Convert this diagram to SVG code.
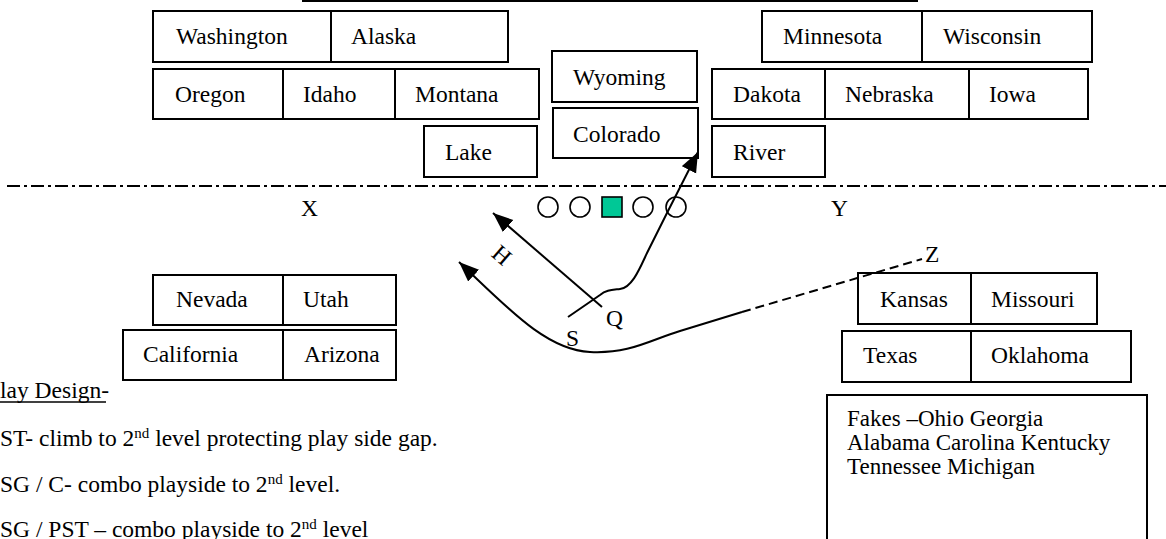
<svg xmlns="http://www.w3.org/2000/svg" width="1166" height="539" viewBox="0 0 1166 539">
  <style>
    text { font-family: "Liberation Serif", "Times New Roman", serif; font-size: 23.5px; fill: #000; }
    .note { font-size: 23px; }
    .box { fill: #fff; stroke: #000; stroke-width: 2; }
    .route { fill: none; stroke: #000; stroke-width: 2; }
    .dash { fill: none; stroke: #000; stroke-width: 2; stroke-dasharray: 9 5; }
    .los { fill: none; stroke: #000; stroke-width: 2; stroke-dasharray: 13 4 3 4; }
    .man { fill: #fff; stroke: #000; stroke-width: 1.6; }
    .sup { font-size: 15px; }
  </style>
  <defs>
    <marker id="arrow" markerUnits="userSpaceOnUse" markerWidth="22" markerHeight="18" refX="20" refY="8" orient="auto">
      <path d="M0,0 L20,8 L0,16 z" fill="#000"/>
    </marker>
  </defs>

  <rect width="1166" height="539" fill="#fff"/>

  <!-- top edge rule and line of scrimmage -->
  <line x1="302" y1="1" x2="918" y2="1" stroke="#000" stroke-width="2"/>
  <line class="los" x1="7" y1="186" x2="1166" y2="186"/>

  <!-- defensive fronts, left side -->
  <g id="row-washington">
    <rect class="box" x="153" y="11" width="178" height="51"/>
    <rect class="box" x="331" y="11" width="177" height="51"/>
    <text x="176" y="44">Washington</text>
    <text x="351" y="44">Alaska</text>
  </g>
  <g id="row-oregon">
    <rect class="box" x="153" y="69" width="130" height="50"/>
    <rect class="box" x="283" y="69" width="112" height="50"/>
    <rect class="box" x="395" y="69" width="144" height="50"/>
    <text x="175" y="102">Oregon</text>
    <text x="303" y="102">Idaho</text>
    <text x="415" y="102">Montana</text>
  </g>
  <g id="node-lake">
    <rect class="box" x="424" y="126" width="113" height="51"/>
    <text x="445" y="160">Lake</text>
  </g>
  <g id="node-wyoming">
    <rect class="box" x="552" y="51" width="145" height="51"/>
    <text x="573" y="85">Wyoming</text>
  </g>
  <g id="node-colorado">
    <rect class="box" x="553" y="108" width="145" height="50"/>
    <text x="573" y="142">Colorado</text>
  </g>

  <!-- defensive fronts, right side -->
  <g id="row-minnesota">
    <rect class="box" x="762" y="11" width="160" height="51"/>
    <rect class="box" x="922" y="11" width="170" height="51"/>
    <text x="783" y="44">Minnesota</text>
    <text x="943" y="44">Wisconsin</text>
  </g>
  <g id="row-dakota">
    <rect class="box" x="712" y="69" width="113" height="50"/>
    <rect class="box" x="825" y="69" width="144" height="50"/>
    <rect class="box" x="969" y="69" width="119" height="50"/>
    <text x="733" y="102">Dakota</text>
    <text x="845" y="102">Nebraska</text>
    <text x="989" y="102">Iowa</text>
  </g>
  <g id="node-river">
    <rect class="box" x="712" y="126" width="113" height="51"/>
    <text x="733" y="160">River</text>
  </g>

  <!-- offensive line -->
  <g id="offensive-line">
    <circle class="man" cx="548" cy="207" r="10"/>
    <circle class="man" cx="580" cy="207" r="10"/>
    <rect x="602" y="197" width="20" height="20" fill="#00C896" stroke="#000" stroke-width="1.6"/>
    <circle class="man" cx="643" cy="207" r="10"/>
    <circle class="man" cx="676" cy="207" r="10"/>
  </g>

  <!-- secondary, left and right -->
  <g id="row-nevada">
    <rect class="box" x="153" y="275" width="130" height="50"/>
    <rect class="box" x="283" y="275" width="113" height="50"/>
    <text x="176" y="307">Nevada</text>
    <text x="303" y="307">Utah</text>
  </g>
  <g id="row-california">
    <rect class="box" x="123" y="330" width="160" height="50"/>
    <rect class="box" x="283" y="330" width="113" height="50"/>
    <text x="143" y="362">California</text>
    <text x="304" y="362">Arizona</text>
  </g>
  <g id="row-kansas">
    <rect class="box" x="858" y="273" width="113" height="51"/>
    <rect class="box" x="971" y="273" width="126" height="51"/>
    <text x="880" y="307">Kansas</text>
    <text x="991" y="307">Missouri</text>
  </g>
  <g id="row-texas">
    <rect class="box" x="842" y="331" width="129" height="51"/>
    <rect class="box" x="971" y="331" width="160" height="51"/>
    <text x="863" y="363">Texas</text>
    <text x="991" y="363">Oklahoma</text>
  </g>

  <!-- player routes -->
  <g id="connectors">
    <line class="route" x1="602" y1="307" x2="493" y2="213" marker-end="url(#arrow)"/>
    <path class="route" d="M742,312 L680,331 C650,340 630,354 590,352 C545,350 505,305 459,262" marker-end="url(#arrow)"/>
    <path class="dash" d="M742,312 L922,259"/>
    <path class="route" d="M568,317 L600,295 C606,290 612,290 620,289 C632,288 640,268 647,253 L667,213 L698,152" marker-end="url(#arrow)"/>
  </g>

  <!-- player labels -->
  <g id="labels">
    <text x="301" y="216">X</text>
    <text x="831" y="216">Y</text>
    <text x="925" y="262">Z</text>
    <text x="606" y="326">Q</text>
    <text x="566" y="346">S</text>
    <text x="502" y="255" text-anchor="middle" dominant-baseline="central" transform="rotate(41 502 255)">H</text>
  </g>

  <!-- fakes note -->
  <g id="node-fakes">
    <rect class="box" x="827" y="395" width="320" height="160"/>
    <text class="note" x="847" y="426">Fakes –Ohio Georgia</text>
    <text class="note" x="847" y="450">Alabama Carolina Kentucky</text>
    <text class="note" x="847" y="474">Tennessee Michigan</text>
  </g>

  <!-- play design notes -->
  <g id="play-design">
    <text x="0" y="398">lay Design-</text>
    <line x1="0" y1="402" x2="106" y2="402" stroke="#000" stroke-width="1.5"/>
    <text x="0" y="446">ST- climb to 2<tspan class="sup" dy="-8">nd</tspan><tspan dy="8"> level protecting play side gap.</tspan></text>
    <text x="0" y="492">SG / C- combo playside to 2<tspan class="sup" dy="-8">nd</tspan><tspan dy="8"> level.</tspan></text>
    <text x="0" y="537">SG / PST – combo playside to 2<tspan class="sup" dy="-8">nd</tspan><tspan dy="8"> level</tspan></text>
  </g>
</svg>
